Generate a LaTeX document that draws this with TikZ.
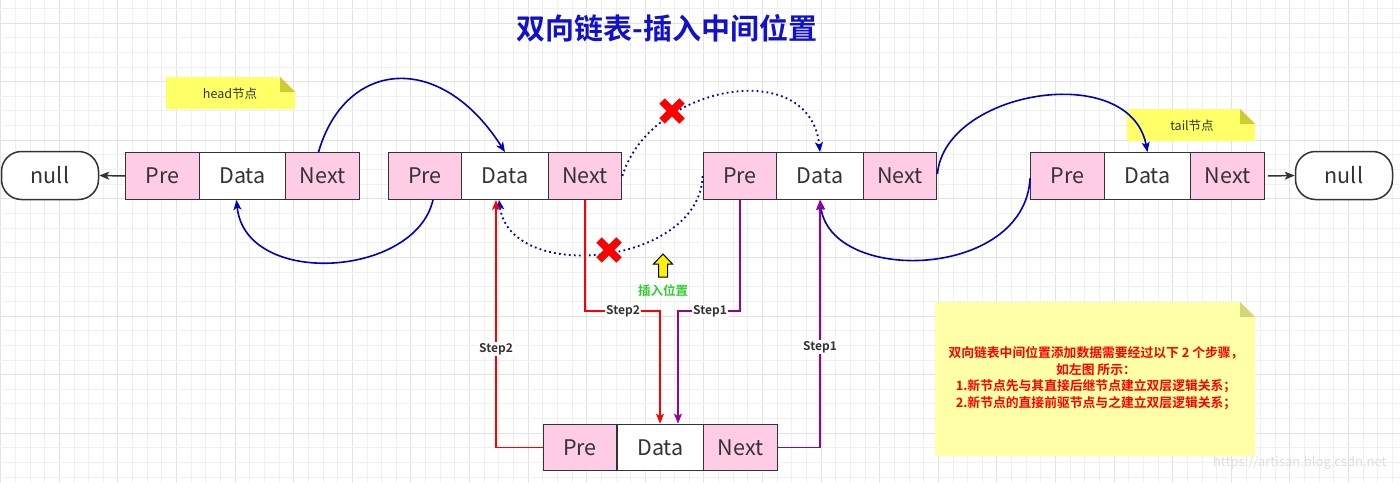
\documentclass[tikz,border=0pt]{standalone}
\usepackage{fontspec}
\setmainfont{Noto Sans CJK SC}[BoldFont={Noto Sans CJK SC Bold}]
\usetikzlibrary{arrows.meta,calc}
\definecolor{pinkc}{RGB}{255,204,229}
\definecolor{edgec}{RGB}{51,51,51}
\definecolor{textc}{RGB}{51,51,51}
\definecolor{bluec}{RGB}{0,0,192}
\definecolor{titlec}{RGB}{17,17,204}
\definecolor{redc}{RGB}{255,0,0}
\definecolor{purplec}{RGB}{153,0,153}
\definecolor{greenc}{RGB}{51,204,51}
\definecolor{gridminor}{RGB}{240,240,240}
\definecolor{gridmajor}{RGB}{226,226,226}
\definecolor{noteyel}{RGB}{255,255,102}
\definecolor{notefold}{RGB}{204,204,51}
\definecolor{bignote}{RGB}{255,255,168}
\definecolor{bigfold}{RGB}{214,214,120}
\definecolor{wmark}{RGB}{222,222,222}
\tikzset{
  cell/.style={draw=edgec, line width=1.3pt, minimum height=46.5pt, inner sep=0pt,
    text=textc, font=\fontsize{21.5}{25}\selectfont},
  pcell/.style={cell, fill=pinkc, minimum width=73.5pt},
  dcell/.style={cell, fill=white, minimum width=86.5pt},
  nullbox/.style={draw=edgec, line width=1.5pt, fill=white, rounded corners=20pt,
    minimum width=97pt, minimum height=48pt, text=textc, font=\fontsize{21.5}{25}\selectfont},
  arr/.style={-{Stealth[length=10pt,width=8pt,inset=2.5pt]}},
  blueline/.style={arr, draw=bluec, line width=1.6pt},
  bluedot/.style={arr, draw=bluec, line width=1.8pt, dash pattern=on 1.8pt off 3.2pt},
  redline/.style={arr, draw=redc, line width=1.5pt},
  purpleline/.style={arr, draw=purplec, line width=1.5pt},
  grayline/.style={arr, draw=edgec, line width=1.5pt},
  steplabel/.style={fill=white, inner sep=1pt, text=textc, font=\fontsize{12}{14}\selectfont\bfseries},
  crossline/.style={draw=redc, line width=7.5pt},
  notetext/.style={text=textc, font=\fontsize{12.5}{14}\selectfont}
}
\begin{document}
\begin{tikzpicture}[x=1pt,y=-1pt]
\useasboundingbox (0,0) rectangle (1400,482);
\fill[white] (0,0) rectangle (1400,482);
% grid
\begin{scope}
\clip (0,0) rectangle (1400,482);
\foreach \k in {0,...,95}{
  \pgfmathsetmacro{\xx}{0.7+14.65*\k}
  \pgfmathtruncatemacro{\mm}{mod(\k,4)}
  \ifnum\mm=0 \draw[gridmajor, line width=1pt] (\xx,0) -- (\xx,482);
  \else \draw[gridminor, line width=0.9pt] (\xx,0) -- (\xx,482); \fi
}
\foreach \k in {0,...,32}{
  \pgfmathsetmacro{\yy}{8.35+14.65*\k}
  \pgfmathtruncatemacro{\mm}{mod(\k,4)}
  \ifnum\mm=1 \draw[gridmajor, line width=1pt] (0,\yy) -- (1400,\yy);
  \else \draw[gridminor, line width=0.9pt] (0,\yy) -- (1400,\yy); \fi
}
\end{scope}

% title
\node[text=titlec, font=\fontsize{29}{33}\selectfont\bfseries] (title) at (667,28) {双向链表-插入中间位置};

% notes
\fill[noteyel] (166,77) -- (280,77) -- (295,92) -- (295,109) -- (166,109) -- cycle;
\fill[notefold] (280,77) -- (280,92) -- (295,92) -- cycle;
\node[notetext] (headnote) at (230,94) {head节点};
\fill[noteyel] (1127,109) -- (1240,109) -- (1255,124) -- (1255,141) -- (1127,141) -- cycle;
\fill[notefold] (1240,109) -- (1240,124) -- (1255,124) -- cycle;
\node[notetext] (tailnote) at (1192,126) {tail节点};
\fill[bignote] (935,302) -- (1240,302) -- (1255,317) -- (1255,456) -- (935,456) -- cycle;
\fill[bigfold] (1240,302) -- (1240,317) -- (1255,317) -- cycle;
\node[text=redc, align=center, font=\fontsize{12.8}{16.5}\selectfont\bfseries] (bignotetext) at (1096,378)
  {双向链表中间位置添加数据需要经过以下 2 个步骤，\\如左图 所示：\\1.新节点先与其直接后继节点建立双层逻辑关系；\\2.新节点的直接前驱节点与之建立双层逻辑关系；};

% head node
\node[nullbox] (nullL) at (50,175.5) {null};
\node[pcell] (h1pre) at (162.5,176) {Pre};
\node[dcell] (h1data) at (242.5,176) {Data};
\node[pcell] (h1next) at (322.5,176) {Next};
% node 2
\node[pcell] (n2pre) at (425,176) {Pre};
\node[dcell] (n2data) at (505,176) {Data};
\node[pcell] (n2next) at (585,176) {Next};
% node 3
\node[pcell] (n3pre) at (740,176) {Pre};
\node[dcell] (n3data) at (820,176) {Data};
\node[pcell] (n3next) at (900,176) {Next};
% tail node
\node[pcell] (n4pre) at (1067.5,176) {Pre};
\node[dcell] (n4data) at (1147.5,176) {Data};
\node[pcell] (n4next) at (1227.5,176) {Next};
\node[nullbox] (nullR) at (1344,175.5) {null};
% new node
\node[pcell] (nwpre) at (580,447.5) {Pre};
\node[dcell] (nwdata) at (660.5,447.5) {Data};
\node[pcell] (nwnext) at (740.5,447.5) {Next};

% null arrows
\draw[grayline] (h1pre.west) -- (nullL.east);
\draw[grayline] ([xshift=3pt]n4next.east) -- (nullR.west);

% solid blue curves
\draw[blueline] ([xshift=-4pt]h1next.north) .. controls (345,60) and (440,50) .. (n2data.north);
\draw[blueline] ([xshift=8pt]n2pre.south) .. controls (415,278) and (245,288) .. ([xshift=-6pt]h1data.south);
\draw[blueline] ([yshift=2pt]n3next.east) .. controls (945,90) and (1130,60) .. (n4data.north);
\draw[blueline] ([yshift=-2pt]n4pre.west) .. controls (1025,280) and (830,285) .. (n3data.south);

% dotted blue curves
\draw[bluedot] (n2next.east) .. controls (650,85) and (810,55) .. (n3data.north);
\draw[bluedot] (n3pre.west) .. controls (700,265) and (510,285) .. ([xshift=-6pt]n2data.south);

% red crosses
\coordinate (x1) at (672,111);
\coordinate (x2) at (609,250);
\draw[crossline] ($(x1)+(-10,-10)$) -- ($(x1)+(10,10)$);
\draw[crossline] ($(x1)+(10,-10)$) -- ($(x1)+(-10,10)$);
\draw[crossline] ($(x2)+(-10,-10)$) -- ($(x2)+(10,10)$);
\draw[crossline] ($(x2)+(10,-10)$) -- ($(x2)+(-10,10)$);

% insert position arrow
\draw[fill=yellow, draw=black, line width=1pt] (663,254) -- (672.5,264) -- (667.5,264) -- (667.5,277) -- (658.5,277) -- (658.5,264) -- (653.5,264) -- cycle;
\node[text=greenc, font=\fontsize{12.5}{14}\selectfont\bfseries] (inslabel) at (663,291) {插入位置};

% step connectors
\coordinate (r1) at (660,311);
\draw[redline] (n2next.south) |- (r1) -- (r1 |- nwdata.north);
\node[steplabel] (s2a) at (623,311) {Step2};
\coordinate (p1) at (678,311);
\draw[purpleline] (n3pre.south) |- (p1) -- (p1 |- nwdata.north);
\node[steplabel] (s1a) at (710,311) {Step1};
\coordinate (r2) at (496,447.5);
\draw[redline] (nwpre.west) -- (r2) -- (r2 |- n2data.south);
\node[steplabel] (s2b) at (496,349) {Step2};
\coordinate (p2) at (820,447.5);
\draw[purpleline] (nwnext.east) -- (p2) -- (n3data.south);
\node[steplabel] (s1b) at (820,347) {Step1};

% watermark
\node[text=wmark, font=\fontsize{13}{15}\selectfont, anchor=east] (wm) at (1390,463) {https://artisan.blog.csdn.net};
\end{tikzpicture}
\end{document}
